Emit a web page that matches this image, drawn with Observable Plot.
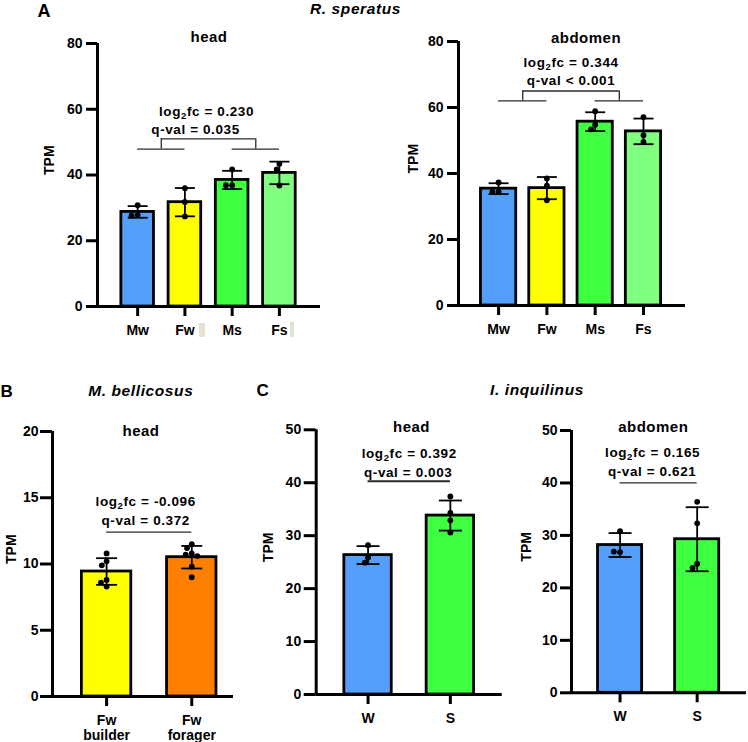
<!DOCTYPE html>
<html><head><meta charset="utf-8">
<script src="https://cdn.jsdelivr.net/npm/d3@7"></script>
<script src="https://cdn.jsdelivr.net/npm/@observablehq/plot@0.6"></script>
<style>
html,body{margin:0;padding:0;background:#fff;}
#fig{position:relative;width:748px;height:742px;overflow:hidden;font-family:"Liberation Sans",Arial,sans-serif;font-weight:bold;color:#000;background:#fff;}
#fig svg{position:absolute;overflow:visible;background:transparent;}
.lbl{position:absolute;line-height:1;white-space:nowrap;}
.sp{font-style:italic;font-size:15.5px;letter-spacing:0.6px;transform:translateX(-50%);}
.art{position:absolute;background:#e6e2d2;}
</style></head><body><div id="fig"></div>
<script>
// ---------- data ----------
// A: R. speratus
const aCats = ["Mw", "Fw", "Ms", "Fs"];
const aColors = ["#559ffc", "#ffff00", "#40ff40", "#80ff80"];
const aHeadTPM = [[30.8, 27.9, 27.6], [36.0, 31.8, 27.4], [41.7, 36.9, 36.9], [43.4, 41.7, 36.8]];
const aAbdTPM = [[37.3, 34.5, 34.4], [38.5, 36.3, 31.9], [58.9, 54.8, 53.4], [57.1, 51.6, 49.6]];
const aGroups = [[0, 1], [2, 3]];
const aHeadStats = ["log2fc = 0.230", "q-val = 0.035"];
const aAbdStats = ["log2fc = 0.344", "q-val < 0.001"];
const aHeadBracket = [47.9, 51.0];
const aAbdBracket = [62.0, 65.0];
const aTicks = [0, 20, 40, 60, 80];
// B: M. bellicosus
const bCats = ["Fw\nbuilder", "Fw\nforager"];
const bColors = ["#ffff00", "#ff8000"];
const bHeadTPM = [[10.8, 10.2, 9.9, 8.8, 8.6, 8.3], [11.5, 11.2, 10.8, 10.7, 10.6, 9.8, 9.0]];
const bStats = ["log2fc = -0.096", "q-val = 0.372"];
const bLine = 12.4;
const bTicks = [0, 5, 10, 15, 20];
// C: I. inquilinus
const cCats = ["W", "S"];
const cColors = ["#559ffc", "#40ff40"];
const cHeadTPM = [[28.2, 25.9, 24.9], [37.4, 34.3, 32.9, 30.6]];
const cAbdTPM = [[30.8, 26.8, 26.9], [36.4, 32.3, 24.6, 23.8]];
const cHeadStats = ["log2fc = 0.392", "q-val = 0.003"];
const cAbdStats = ["log2fc = 0.165", "q-val = 0.621"];
const cHeadLine = 40.3;
const cAbdLine = 40.0;
const cTicks = [0, 10, 20, 30, 40, 50];

// ---------- helpers ----------
const FONT = '"Liberation Sans", Arial, sans-serif';
const capSymbol = {draw(ctx, size) { const w = Math.sqrt(size / Math.PI); ctx.moveTo(-w, 0); ctx.lineTo(w, 0); }};

function swarm(vals, pxY, D) {
  const placed = [];
  return vals.map(v => {
    const y = v * pxY;
    const blocks = placed.filter(p => Math.abs(p.y - y) < D)
      .map(p => { const w = Math.sqrt(D * D - (p.y - y) ** 2); return [p.x - w, p.x + w]; });
    const cands = [0, ...blocks.flat()].sort((a, b) => Math.abs(a) - Math.abs(b));
    const x = cands.find(c => blocks.every(([a, b]) => c <= a + 1e-6 || c >= b - 1e-6));
    placed.push({x, y});
    return x;
  });
}

function panel(cfg) {
  const {cats, colors, values, ticks, title, stats, L} = cfg;
  const n = cats.length;
  const xDom = [-L.padL, n - 1 + L.padR];
  const ymax = ticks[ticks.length - 1];
  const pxX = (L.width - L.ml - L.mr) / (xDom[1] - xDom[0]);
  const pxY = (L.height - L.mt - L.mb) / ymax;
  const bars = values.map((v, i) => ({i, color: colors[i], mean: d3.mean(v), sd: d3.deviation(v)}));
  const pts = values.flatMap((v, i) => swarm(v, pxY, 6.2).map((o, j) => ({v: v[j], x: i + o / pxX})));
  const caps = bars.flatMap(b => [{i: b.i, y: b.mean - b.sd}, {i: b.i, y: b.mean + b.sd}]);
  const bs = {stroke: "#2a2a2a", strokeWidth: L.bw || 1.3};
  const marks = [
    Plot.rect(bars, {x1: d => d.i - L.hw, x2: d => d.i + L.hw, y1: 0, y2: "mean", fill: "color", stroke: "black", strokeWidth: 2.8}),
    Plot.ruleX(bars, {x: "i", y1: d => d.mean - d.sd, y2: d => d.mean + d.sd, stroke: "black", strokeWidth: 1.8}),
    Plot.dot(caps, {x: "i", y: "y", r: L.cap, symbol: capSymbol, fill: "none", stroke: "black", strokeWidth: 1.8}),
    Plot.dot(pts, {x: "x", y: "v", r: 2.9, fill: "black", stroke: "none"}),
    Plot.ruleY([0], {stroke: "black", strokeWidth: 3}),
    Plot.ruleX([xDom[0]], {stroke: "black", strokeWidth: 3}),
    Plot.axisY({ticks, tickSize: L.tsY, tickPadding: L.tpY, strokeWidth: 3, fontSize: 14, label: null}),
    Plot.axisX({ticks: d3.range(n), tickFormat: i => cats[i], tickSize: 10, tickPadding: 8, strokeWidth: 3, fontSize: 14, lineHeight: 1.05, label: null}),
    Plot.text([title], {text: d => d, frameAnchor: "top", dx: L.tDx, dy: L.tDy, fontSize: 15}),
    Plot.text(["TPM"], {text: d => d, frameAnchor: "left", rotate: -90, dx: -L.tpm, fontSize: 14})
  ];
  let midX, topY;
  if (cfg.groups) {
    const [lo, hi] = cfg.bracket;
    const mids = cfg.groups.map(g => d3.mean(g));
    marks.push(
      Plot.ruleY(cfg.groups, {y: lo, x1: g => g[0], x2: g => g[g.length - 1], ...bs}),
      Plot.ruleY([mids], {y: hi, x1: m => m[0], x2: m => m[1], ...bs}),
      Plot.ruleX(mids, {x: m => m, y1: lo, y2: hi, ...bs})
    );
    midX = d3.mean(mids); topY = hi;
  } else {
    marks.push(Plot.ruleY([cfg.line], {y: d => d, x1: 0, x2: n - 1, ...bs}));
    midX = (n - 1) / 2; topY = cfg.line;
  }
  marks.push(
    Plot.text([stats[0]], {text: d => d, x: midX, y: topY, dx: L.lDx, dy: L.lDy, fontSize: 13.5}),
    Plot.text([stats[1]], {text: d => d, x: midX, y: topY, dx: L.qDx, dy: L.qDy, fontSize: 13.5})
  );
  const svg = Plot.plot({
    width: L.width, height: L.height,
    marginLeft: L.ml, marginRight: L.mr, marginTop: L.mt, marginBottom: L.mb,
    x: {type: "linear", domain: xDom, label: null},
    y: {type: "linear", domain: [0, ymax], label: null},
    color: {type: "identity"},
    style: {fontFamily: FONT, fontWeight: "bold", fontSize: "14px", color: "black", background: "transparent", overflow: "visible"},
    marks
  });
  // subscript "2" in log2fc, and slight letter spacing on stats and titles
  const ns = "http://www.w3.org/2000/svg";
  svg.querySelectorAll("text").forEach(t => {
    const s = t.textContent;
    if (stats.includes(s)) t.setAttribute("letter-spacing", "0.6");
    if (s === title) t.setAttribute("letter-spacing", "0.5");
    if (s.startsWith("log2fc")) {
      t.textContent = "";
      const a = document.createElementNS(ns, "tspan"); a.textContent = "log";
      const b = document.createElementNS(ns, "tspan"); b.textContent = "2"; b.setAttribute("font-size", "9.5"); b.setAttribute("dy", "3");
      const c = document.createElementNS(ns, "tspan"); c.textContent = s.slice(4); c.setAttribute("dy", "-3");
      t.append(a, b, c);
    }
  });
  svg.style.left = L.left + "px";
  svg.style.top = L.top + "px";
  document.getElementById("fig").appendChild(svg);
}

panel({cats: aCats, colors: aColors, values: aHeadTPM, ticks: aTicks, title: "head", stats: aHeadStats,
  groups: aGroups, bracket: aHeadBracket,
  L: {left: 0, top: 0, width: 330, height: 345, ml: 97, mr: 10, mt: 43, mb: 39, padL: 0.85, padR: 0.87, hw: 0.345, cap: 10,
      tsY: 11, tpY: 4, tDx: 0, tDy: -12.5, tpm: 48, lDx: -2, lDy: -27.5, qDx: -13, qDy: -9.5}});
panel({cats: aCats, colors: aColors, values: aAbdTPM, ticks: aTicks, title: "abdomen", stats: aAbdStats,
  groups: aGroups, bracket: aAbdBracket,
  L: {left: 360, top: 0, width: 335, height: 345, ml: 98, mr: 10, mt: 41, mb: 40, padL: 0.83, padR: 0.87, hw: 0.365, cap: 10,
      tsY: 11, tpY: 4, tDx: 14, tDy: -9.5, tpm: 45, lDx: 0, lDy: -28.8, qDx: 0, qDy: -10.3}});
panel({cats: bCats, colors: bColors, values: bHeadTPM, ticks: bTicks, title: "head", stats: bStats, line: bLine,
  L: {left: 0, top: 360, width: 245, height: 382, ml: 52, mr: 12, mt: 71, mb: 46, padL: 0.635, padR: 0.49, hw: 0.29, cap: 10.5,
      tsY: 12, tpY: 2, tDx: -2, tDy: -5.7, tpm: 41, lDx: -3.5, lDy: -30.8, qDx: -3.5, qDy: -11.3}});
panel({cats: cCats, colors: cColors, values: cHeadTPM, ticks: cTicks, title: "head", stats: cHeadStats, line: cHeadLine,
  L: {left: 250, top: 360, width: 260, height: 382, ml: 65.7, mr: 8.3, mt: 69.3, mb: 48, padL: 0.63, padR: 0.63, hw: 0.288, cap: 11.5,
      tsY: 12, tpY: 3, tDx: 2.3, tDy: -8, tpm: 48, lDx: 0, lDy: -27.4, qDx: -1, qDy: -8.8, bw: 2}});
panel({cats: cCats, colors: cColors, values: cAbdTPM, ticks: cTicks, title: "abdomen", stats: cAbdStats, line: cAbdLine,
  L: {left: 510, top: 360, width: 238, height: 382, ml: 61, mr: 2, mt: 70, mb: 49.7, padL: 0.63, padR: 0.64, hw: 0.286, cap: 11.5,
      tsY: 11, tpY: 3, tDx: -5.7, tDy: -9, tpm: 45, lDx: -6, lDy: -30, qDx: -6.5, qDy: -10.8}});

// ---------- panel letters and species titles ----------
const fig = document.getElementById("fig");
function label(text, cls, style) {
  const d = document.createElement("div");
  d.className = "lbl " + cls;
  d.textContent = text;
  Object.assign(d.style, style);
  fig.appendChild(d);
}
label("A", "", {left: "37.5px", top: "2.4px", fontSize: "18px"});
label("B", "", {left: "0.5px", top: "382.5px", fontSize: "17px"});
label("C", "", {left: "256.5px", top: "382px", fontSize: "17px"});
label("R. speratus", "sp", {left: "355.5px", top: "0.7px"});
label("M. bellicosus", "sp", {left: "140.8px", top: "383px"});
label("I. inquilinus", "sp", {left: "537px", top: "382.2px"});
// small scan artifacts next to two tick labels in the reference
[[199, 323, 6, 14], [290, 322, 3.5, 15]].forEach(([x, y, w, h]) => {
  const d = document.createElement("div"); d.className = "art";
  Object.assign(d.style, {left: x + "px", top: y + "px", width: w + "px", height: h + "px"});
  fig.appendChild(d);
});
</script></body></html>
